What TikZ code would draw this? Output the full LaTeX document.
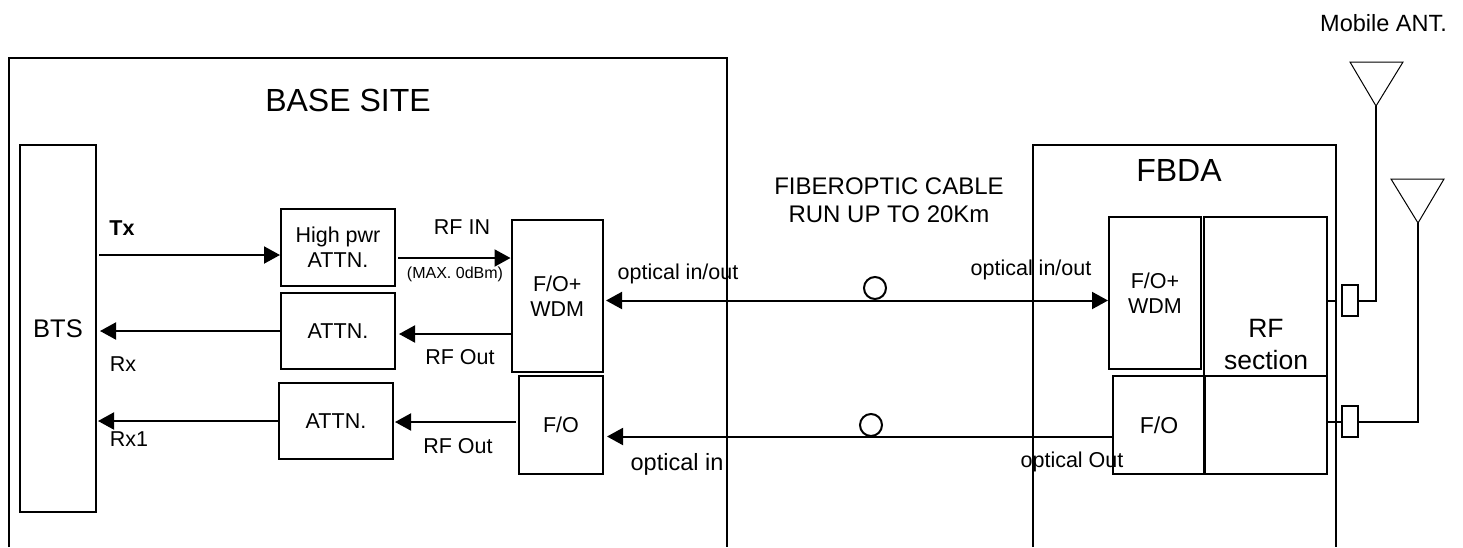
\documentclass[tikz,border=0pt]{standalone}
\usepackage{fontspec}
\setmainfont{Liberation Sans}
\usetikzlibrary{arrows.meta}
\newcommand{\fs}[2]{\fontsize{#1}{#2}\selectfont}
\tikzset{
  x=1pt,y=-1pt,
  box/.style={draw=black,line width=2pt,inner sep=0pt,align=center,font=\fs{21.5}{25}},
  lab/.style={inner sep=0pt,align=center,font=\fs{21.5}{25}},
  wire/.style={line width=2pt,draw=black},
  arr/.style={wire,-{Triangle[length=16pt,width=17pt]},shorten >=0pt},
  darr/.style={wire,{Triangle[length=16pt,width=17pt]}-{Triangle[length=16pt,width=17pt]}},
  ant/.style={draw=black,line width=1pt,line join=miter},
}
\begin{document}
\begin{tikzpicture}
\useasboundingbox (0,0) rectangle (1463,547);
\fill[white] (0,0) rectangle (1463,547);
% enclosures (open at the bottom)
\coordinate (bsa) at (9,547); \coordinate (bsb) at (9,58); \coordinate (bsc) at (727,58); \coordinate (bsd) at (727,547);
\draw[wire] (bsa) -- (bsb) -- (bsc) -- (bsd);
\coordinate (fba) at (1033,547); \coordinate (fbb) at (1033,145); \coordinate (fbc) at (1336,145); \coordinate (fbd) at (1336,547);
\draw[wire] (fba) -- (fbb) -- (fbc) -- (fbd);
% left blocks
\node[box,minimum width=76pt,minimum height=367pt,font=\fs{25.5}{30}] (bts) at (58,328.5) {BTS};
\node[box,minimum width=114pt,minimum height=77pt] (hp) at (338,247.5) {High pwr\\ATTN.};
\node[box,minimum width=114pt,minimum height=76pt] (at1) at (338,331) {ATTN.};
\node[box,minimum width=114pt,minimum height=76pt] (at2) at (336,421) {ATTN.};
\node[box,minimum width=91.5pt,minimum height=152pt] (wdm) at (557.25,296) {F/O+\\WDM};
\node[box,minimum width=84pt,minimum height=98pt] (fo) at (561,425) {F/O};
% right blocks
\node[box,minimum width=92pt,minimum height=152pt] (wdmr) at (1155,293) {F/O+\\WDM};
\node[box,minimum width=92pt,minimum height=98pt,font=\fs{23}{27}] (for) at (1159,425) {F/O};
\node[box,minimum width=123pt,minimum height=159pt] (rf) at (1265.5,296.5) {};
\node[box,minimum width=123pt,minimum height=98pt] (rfb) at (1265.5,425) {};
\node[lab,font=\fs{26.5}{32}] (rft) at (1266,345) {RF\\section};
% connector boxes
\node[box,minimum width=16pt,minimum height=31pt] (c1) at (1350,300.5) {};
\node[box,minimum width=16pt,minimum height=31pt] (c2) at (1350,421.5) {};
% arrows
\coordinate (txs) at (99,255);
\draw[arr] (txs) -- (hp.west |- txs);
\coordinate (rfis) at (398,258);
\draw[arr] (rfis) -- (wdm.west |- rfis);
\coordinate (rxe) at (100,331);
\draw[arr] (at1.west |- rxe) -- (rxe);
\coordinate (rfoe) at (399,334);
\draw[arr] (wdm.west |- rfoe) -- (rfoe);
\coordinate (rx1e) at (98,421);
\draw[arr] (at2.west |- rx1e) -- (rx1e);
\coordinate (rfo2s) at (516,422); \coordinate (rfo2e) at (395,422);
\draw[arr] (rfo2s) -- (rfo2e);
\coordinate (opl) at (606,300.5); \coordinate (opr) at (1108,300.5);
\draw[darr] (opl) -- (opr);
\coordinate (ol2) at (607,436.5);
\draw[arr] (for.west |- ol2) -- (ol2);
% cable marks
\node[draw=black,line width=2pt,circle,minimum size=22pt,inner sep=0pt] (cm1) at (875,288) {};
\node[draw=black,line width=2pt,circle,minimum size=22pt,inner sep=0pt] (cm2) at (871,425) {};
% antenna wiring
\coordinate (st1) at (1335,300.5);
\draw[wire] (rf.east |- st1) -- (st1);
\draw[wire] (rfb.east |- c2) -- (c2.west);
\coordinate (a1t) at (1376,106); \coordinate (a1l) at (1350,62); \coordinate (a1r) at (1403,62);
\coordinate (a2t) at (1418,223); \coordinate (a2l) at (1391,179); \coordinate (a2r) at (1444,179);
\draw[wire] (c1.east) -| (a1t);
\draw[wire] (c2.east) -| (a2t);
\draw[ant] (a1l) -- (a1r) -- (a1t) -- cycle;
\draw[ant] (a2l) -- (a2r) -- (a2t) -- cycle;
% labels
\node[lab,font=\fs{23.5}{28}] (mob) at (1383.5,23) {Mobile ANT.};
\node[lab,font=\fs{32}{38}] (base) at (348,100) {BASE SITE};
\node[lab,font=\fs{32}{38}] (fbda) at (1179,170) {FBDA};
\node[lab,font=\fs{24}{28}] (cable) at (889,200) {FIBEROPTIC CABLE\\RUN UP TO 20Km};
\node[lab,font=\bfseries\fs{21.5}{25}] (tx) at (122,228) {Tx};
\node[lab] (rfin) at (462,227) {RF IN};
\node[lab,font=\fs{16}{19}] (max) at (455,274) {(MAX. 0dBm)};
\node[lab] (rfo1) at (460,357) {RF Out};
\node[lab] (rxl) at (123,364) {Rx};
\node[lab] (rx1l) at (129,439) {Rx1};
\node[lab] (rfo2) at (458,446) {RF Out};
\node[lab] (oio1) at (678,274) {optical in/out};
\node[lab,font=\fs{23.5}{28}] (oin) at (677,464) {optical in};
\node[lab] (oio2) at (1031,270) {optical in/out};
\node[lab] (oout) at (1072,462) {optical Out};
\end{tikzpicture}
\end{document}
